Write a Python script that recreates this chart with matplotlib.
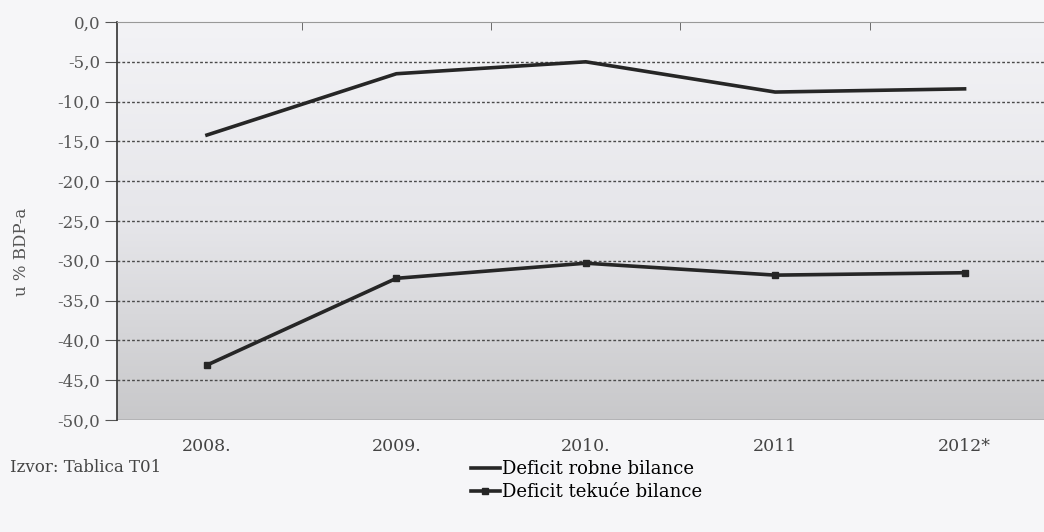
import numpy as np
import matplotlib
matplotlib.use("Agg")
import matplotlib.pyplot as plt
from matplotlib.colors import LinearSegmentedColormap

years = ["2008.", "2009.", "2010.", "2011", "2012*"]
tekuca = [-14.2, -6.5, -5.0, -8.8, -8.4]
robna = [-43.1, -32.2, -30.3, -31.8, -31.5]
yticks = np.arange(0, -55, -5)

plt.rcParams['font.family'] = ['DejaVu Serif', 'Liberation Serif']

fig = plt.figure(figsize=(10.44, 5.32), dpi=100, facecolor='#f6f6f8')
# axes runs past the right edge like in the scan
ax = fig.add_axes([117/1044, 1 - 420/532, 947/1044, 398/532])
ax.set_facecolor('none')

x = np.arange(len(years))
ax.set_xlim(-0.475, len(years) - 0.475)
ax.set_ylim(-50, 0)

# background gradient, light at top, grey at the bottom
cmap = LinearSegmentedColormap.from_list('bg', ['#f3f3f6', '#e6e6ea', '#c8c8ca'])
grad = np.linspace(0, 1, 256).reshape(-1, 1)
ax.imshow(grad, aspect='auto', cmap=cmap, extent=[0, 1, 0, 1],
          transform=ax.transAxes, zorder=0)

for v in yticks[1:-1]:
    ax.axhline(v, color='#4a4a4a', lw=1.0, ls=(0, (2, 1.5)), zorder=1)
ax.axhline(-50, color='#666666', lw=1.0, zorder=1)

ax.plot(x, tekuca, color='#262626', lw=2.6, zorder=3,
        label='Deficit robne bilance')
ax.plot(x, robna, color='#262626', lw=2.6, marker='s', ms=5, zorder=3,
        label='Deficit tekuće bilance')

ax.set_yticks(yticks)
ax.set_yticklabels([f"{v:.1f}".replace('.', ',') for v in yticks],
                   fontsize=12, color='#555555')
ax.tick_params(axis='y', length=9, color='#555555', direction='out', pad=3)

ax.set_xticks(x)
ax.set_xticklabels(years, fontsize=12.5, color='#444444')
ax.tick_params(axis='x', length=0, pad=13)

# category boundary ticks on the zero line at the top
ax.set_xticks(x[:-1] + 0.5, minor=True)
ax.tick_params(axis='x', which='minor', top=True, bottom=False, length=6,
               direction='in', color='#555555')

for s in ['right', 'bottom']:
    ax.spines[s].set_visible(False)
ax.spines['left'].set_color('#333333')
ax.spines['left'].set_linewidth(1.2)
ax.spines['top'].set_color('#999999')

fig.text(22/1044, 1 - 252/532, 'u % BDP-a', fontsize=12, color='#555555',
         rotation=90, ha='center', va='center')

fig.text(10/1044, 1 - 468/532, 'Izvor: Tablica T01', fontsize=12,
         color='#444444', va='center')
fig.legend(loc='upper left', bbox_to_anchor=(462/1044, 1 - 451/532),
           frameon=False, fontsize=13, handlelength=1.6, handletextpad=0.1,
           labelspacing=0.3, borderpad=0)

fig.savefig('out.png', dpi=100, facecolor=fig.get_facecolor())
